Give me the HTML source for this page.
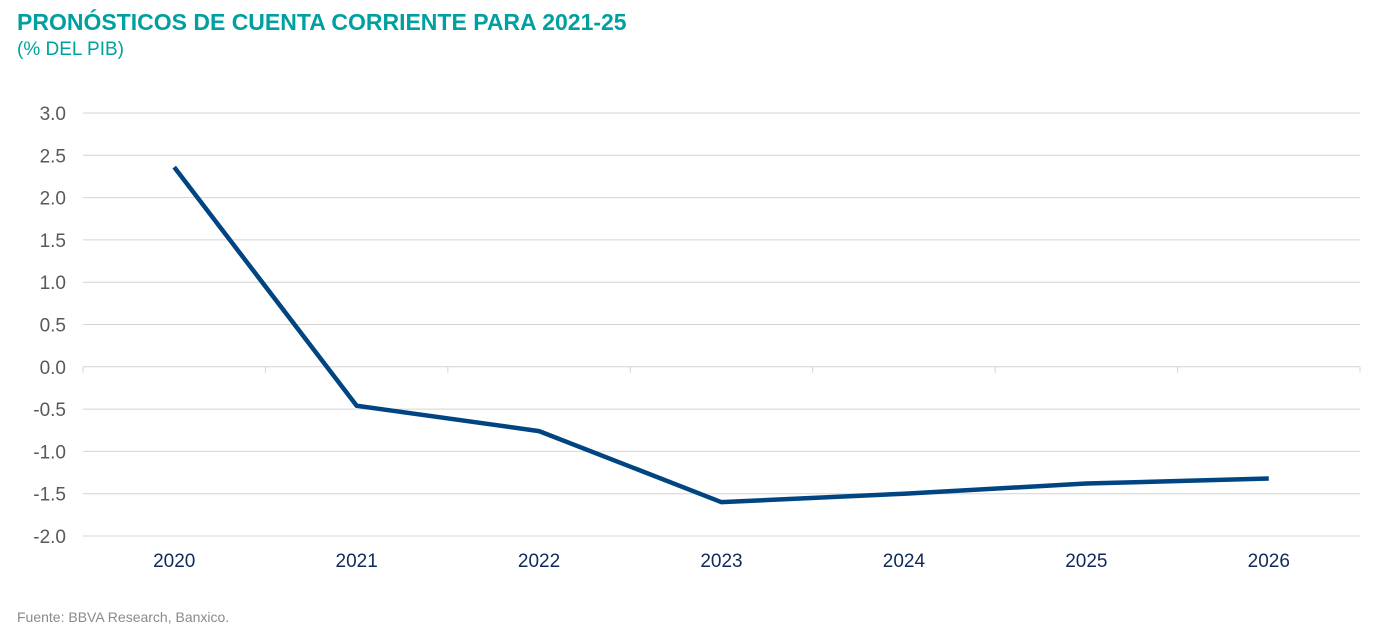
<!DOCTYPE html>
<html><head><meta charset="utf-8"><style>
body{margin:0;width:1383px;height:635px;background:#fff;font-family:"Liberation Sans",sans-serif;overflow:hidden;position:relative}
.t{position:absolute;left:17px;top:9px;font-size:23px;font-weight:bold;color:#00a0a0;white-space:nowrap}
.s{position:absolute;left:17px;top:39px;font-size:19px;color:#00a0a0}
.f{position:absolute;left:17px;top:609px;font-size:14px;color:#8a8a8a}
svg{position:absolute;left:0;top:0}
</style></head><body>
<div class="t">PRONÓSTICOS DE CUENTA CORRIENTE PARA 2021-25</div>
<div class="s">(% DEL PIB)</div>
<svg id="c" width="1383" height="635"></svg>
<div class="f">Fuente: BBVA Research, Banxico.</div>
<script>
const categories=["2020","2021","2022","2023","2024","2025","2026"];
const values=[2.36,-0.46,-0.76,-1.60,-1.50,-1.38,-1.32];
const yTicks=[3.0,2.5,2.0,1.5,1.0,0.5,0.0,-0.5,-1.0,-1.5,-2.0];
const X0=83,X1=1360,Y0=113,Y1=536,YMAX=3,YMIN=-2;
const y=v=>Y0+(YMAX-v)/(YMAX-YMIN)*(Y1-Y0);
const bw=(X1-X0)/categories.length;
const x=i=>X0+bw*(i+0.5);
const svg=document.getElementById('c');const NS='http://www.w3.org/2000/svg';
function mk(t,a){const e=document.createElementNS(NS,t);for(const k in a)e.setAttribute(k,a[k]);svg.appendChild(e);return e;}
yTicks.forEach(v=>{
 const l=mk('line',{x1:X0,x2:X1,y1:y(v),y2:y(v),stroke:'#d4d4d4','stroke-width':1});
 
 
 const t=mk('text',{x:66,y:y(v)+7,'text-anchor':'end','font-size':19,fill:'#595959'});
 t.textContent=v.toFixed(1);
 
 
});
for(let i=0;i<=categories.length;i++){
 const tk=mk('line',{x1:X0+bw*i,x2:X0+bw*i,y1:y(0),y2:y(0)+6,stroke:'#d4d4d4','stroke-width':1});
 
 
}
categories.forEach((c,i)=>{
 const t=mk('text',{x:x(i),y:567,'text-anchor':'middle','font-size':19,fill:'#0f2a5a'});
 t.textContent=c;
 
 
});
const p=mk('polyline',{points:values.map((v,i)=>x(i)+','+y(v)).join(' '),fill:'none',stroke:'#004481','stroke-width':4.5,'stroke-linejoin':'round'});


</script>
</body></html>
